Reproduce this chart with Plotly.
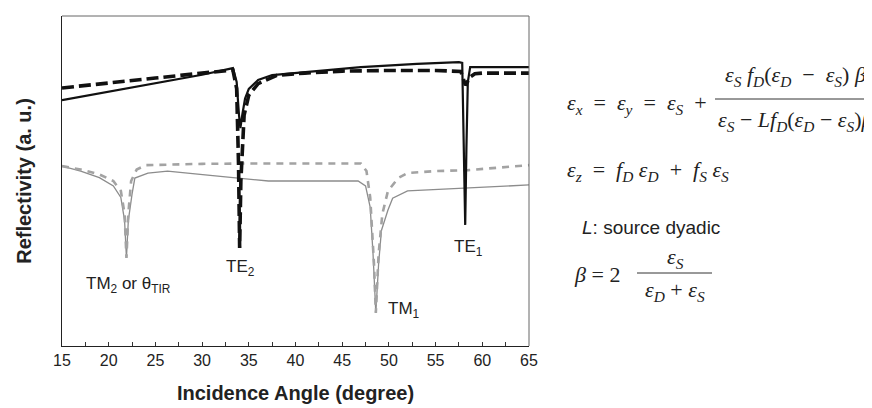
import plotly.graph_objects as go

# ---------------- data (y in arbitrary units 0-100) ----------------
te_solid_x = [15, 20, 25, 30, 33.3, 33.7, 33.95, 34.1, 34.3, 34.6, 35, 36, 37.5, 41, 47, 53, 57.5, 57.85,
              58.05, 58.17, 58.3, 58.45, 58.7, 60, 65]
te_solid_y = [74.5, 77.0, 79.6, 82.2, 84.2, 80, 70, 66, 70, 75, 77.9, 80.6, 82.1, 83.0, 84.5, 85.5, 86.0, 85.8,
              60, 36.7, 60, 80, 84.5, 84.5, 84.5]

te_dash_x = [15, 20, 25, 30, 33.3, 33.7, 33.9, 34.02, 34.15, 34.5, 35, 36, 38, 41, 45, 50, 55, 57.7, 58.0,
             58.2, 58.4, 58.7, 59.2, 60, 65]
te_dash_y = [78.2, 79.8, 81.2, 82.7, 83.6, 78, 55, 29.7, 50, 70, 76, 79.5, 82, 82.7, 83.3, 83.5, 83.5, 83.2, 80.5,
             79, 80, 81.5, 82.5, 82.7, 82.7]

tm_dash_x = [15, 17, 19, 20.5, 21.3, 21.7, 21.9, 22.1, 22.4, 23, 24, 26, 30, 35, 40, 45, 47, 47.6, 48.0,
             48.4, 48.6, 48.9, 49.3, 49.9, 51, 52, 55, 58.5, 62, 65]
tm_dash_y = [54.5, 53.5, 52, 50, 47, 40, 26.7, 40, 50, 53.5, 54.8, 55, 55.2, 55.3, 55.3, 55.5, 55.3, 53, 45,
             25, 10, 28, 40, 47, 50.9, 52.4, 53, 53.3, 54, 54.8]

tm_solid_x = [15, 17, 19, 20.5, 21.3, 21.7, 21.9, 22.1, 22.5, 22.8, 24.2, 26.3, 30.6, 33.8, 37.1, 46.7, 47.5,
              48.0, 48.3, 48.6, 48.9, 49.2, 49.9, 50.4, 52, 54.2, 58.5, 65]
tm_solid_y = [54.5, 53, 51, 48.5, 45, 38, 26.7, 38, 46, 50.9, 52.4, 53, 51.8, 50.9, 50, 50, 48.5,
              42, 28, 10, 25, 35, 41.2, 44.8, 47, 47.3, 47.9, 48.8]

x_ticks = [15, 20, 25, 30, 35, 40, 45, 50, 55, 60, 65]
x_tick_text = [str(v) for v in x_ticks]

mode_labels = ["TM<sub>2</sub> or θ<sub>TIR</sub>", "TE<sub>2</sub>", "TM<sub>1</sub>", "TE<sub>1</sub>"]
mode_label_x = [22.07, 34.06, 51.6, 58.5]
mode_label_y = [18.5, 23.6, 10.9, 29.7]

# ---------------- layout geometry ----------------
W, H = 872, 408
PX0, PX1, PY0, PY1 = 54, 521, 8, 338


def px(x):
    return (x - PX0) / (PX1 - PX0)


def py(y):
    return (PY1 - y) / (PY1 - PY0)


fig = go.Figure()
fig.add_trace(go.Scatter(x=tm_solid_x, y=tm_solid_y, mode="lines",
                         line=dict(color="#8c8c8c", width=1.3), showlegend=False))
fig.add_trace(go.Scatter(x=tm_dash_x, y=tm_dash_y, mode="lines",
                         line=dict(color="#a3a3a3", width=2.6, dash="7px,6px"), showlegend=False))
fig.add_trace(go.Scatter(x=te_solid_x, y=te_solid_y, mode="lines",
                         line=dict(color="#111111", width=2.2), showlegend=False))
fig.add_trace(go.Scatter(x=te_dash_x, y=te_dash_y, mode="lines",
                         line=dict(color="#111111", width=3.6, dash="12px,5px"), showlegend=False))

for t, x, y in zip(mode_labels, mode_label_x, mode_label_y):
    fig.add_annotation(x=x, y=y, xref="x", yref="y", text=t, showarrow=False,
                       font=dict(family="Liberation Sans, Arial", size=17, color="#222"))

EQF = dict(family="Liberation Serif, Times New Roman", size=22, color="#222")


def eq(text, x, y, anchor="left", size=22):
    f = dict(EQF)
    f["size"] = size
    fig.add_annotation(x=px(x), y=py(y), xref="paper", yref="paper", text=text, showarrow=False,
                       xanchor=anchor, yanchor="middle", font=f)


def fracline(x0, x1, y):
    fig.add_shape(type="line", xref="paper", yref="paper", x0=px(x0), x1=px(x1), y0=py(y), y1=py(y),
                  line=dict(color="#333", width=1))


e = "<i>ε</i>"
s = "\u00a0"
eq(f"{e}<sub><i>x</i></sub>{s}{s}={s}{s}{e}<sub><i>y</i></sub>{s}{s}={s}{s}{e}<sub><i>S</i></sub>{s}{s}+", 557, 96)
eq(f"{e}<sub><i>S</i></sub>{s}<i>f</i><sub><i>D</i></sub>({e}<sub><i>D</i></sub>{s}{s}−{s}{s}{e}<sub><i>S</i></sub>){s}<i>β</i>",
   787, 68, anchor="center")
fracline(707, 866, 91)
eq(f"{e}<sub><i>S</i></sub> − <i>Lf</i><sub><i>D</i></sub>({e}<sub><i>D</i></sub> − {e}<sub><i>S</i></sub>)<i>β</i>",
   787, 113, anchor="center")
eq(f"{e}<sub><i>z</i></sub>{s}{s}={s}{s}<i>f</i><sub><i>D</i></sub>{s}{e}<sub><i>D</i></sub>{s}{s}+{s}{s}<i>f</i><sub><i>S</i></sub>{s}{e}<sub><i>S</i></sub>",
   557, 163)
fig.add_annotation(x=px(572), y=py(220), xref="paper", yref="paper", text="<i>L</i>: source dyadic",
                   showarrow=False, xanchor="left", yanchor="middle",
                   font=dict(family="Liberation Sans, Arial", size=19, color="#222"))
eq(f"<i>β</i>{s}={s}2", 564, 266)
eq(f"{e}<sub><i>S</i></sub>", 667, 250, anchor="center")
fracline(629, 704, 265)
eq(f"{e}<sub><i>D</i></sub>{s}+{s}{e}<sub><i>S</i></sub>", 667, 283, anchor="center")

# top and right frame lines (lighter than the axes)
fig.add_shape(type="line", xref="paper", yref="paper", x0=0, x1=1, y0=1, y1=1,
              line=dict(color="#666", width=1))
fig.add_shape(type="line", xref="paper", yref="paper", x0=1, x1=1, y0=0, y1=1,
              line=dict(color="#666", width=1))

fig.update_layout(
    width=W, height=H,
    margin=dict(l=PX0, r=W - PX1, t=PY0, b=H - PY1),
    paper_bgcolor="white", plot_bgcolor="white",
    font=dict(family="Liberation Sans, Arial", color="#222"),
    xaxis=dict(range=[15, 65], tickvals=x_ticks, ticktext=x_tick_text, ticks="inside", ticklen=4,
               tickcolor="#333", minor=dict(ticks="inside", ticklen=4, dtick=2.5, tickcolor="#333"),
               showline=True, linecolor="#222", linewidth=1, showgrid=False, zeroline=False,
               tickfont=dict(size=16, color="#222"),
               title=dict(text="<b>Incidence Angle (degree)</b>", font=dict(size=20, color="#222"), standoff=17)),
    yaxis=dict(range=[0, 100], showticklabels=False, ticks="", showline=True, linecolor="#222", linewidth=1,
               showgrid=False, zeroline=False,
               title=dict(text="<b>Reflectivity (a. u.)</b>", font=dict(size=20, color="#222"), standoff=24)),
)

fig.write_html("out.html")
